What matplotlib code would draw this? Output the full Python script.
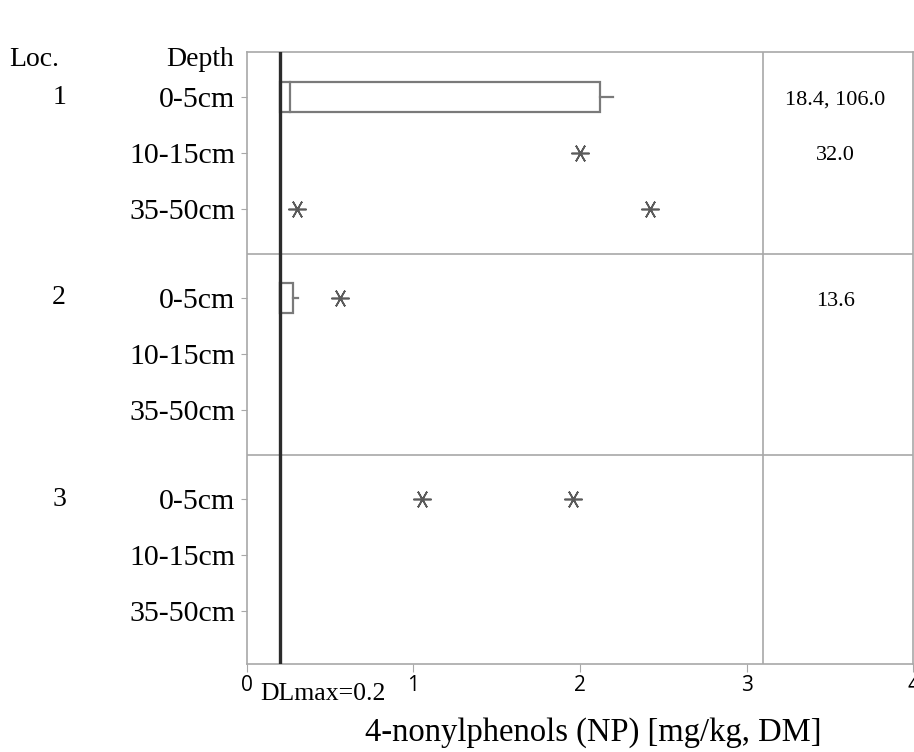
import matplotlib
matplotlib.use("Agg")
import matplotlib.pyplot as plt
from matplotlib.patches import Rectangle

locations = ["1", "2", "3"]
depths = ["0-5cm", "10-15cm", "35-50cm"]
DL = 0.2

# box stats: (loc index, depth index, q1, median, q3, whisker_hi)
box_loc = [0, 1]
box_depth = [0, 0]
box_q1 = [0.2, 0.2]
box_med = [0.26, 0.2]
box_q3 = [2.12, 0.28]
box_whi = [2.2, 0.31]

# outliers shown within axis range
out_loc = [0, 0, 0, 1, 2, 2]
out_depth = [1, 2, 2, 0, 0, 0]
out_val = [2.0, 0.30, 2.42, 0.56, 1.05, 1.96]

# off-scale values listed in right column
note_loc = [0, 0, 1]
note_depth = [0, 1, 0]
note_text = ["18.4, 106.0", "32.0", "13.6"]

xticks = [0, 1, 2, 3, 4]

GROUP_STEP = 201
ROW_STEP = 56

def ypos(g, d):
    return g * GROUP_STEP + d * ROW_STEP

serif = ["Liberation Serif", "DejaVu Serif"]
gray = "#7a7a7a"
frame = "#a8a8a8"

fig = plt.figure(figsize=(9.14, 7.52), dpi=100)
ax = fig.add_axes([246.6 / 914, 88 / 752, (913.4 - 246.6) / 914, (664 - 52) / 752])
ax.set_xlim(0, 4)
ax.set_ylim(ypos(2, 2) + 53, -45)

for s in ax.spines.values():
    s.set_color(frame)
    s.set_linewidth(1.2)

# separators
for g in range(len(locations) - 1):
    ysep = (ypos(g, 2) + ypos(g + 1, 0)) / 2
    ax.axhline(ysep, color=frame, lw=1.2)
ax.axvline(3.1, color=frame, lw=1.2)

# boxes
bh = 30
for g, d, q1, med, q3, whi in zip(box_loc, box_depth, box_q1, box_med, box_q3, box_whi):
    y = ypos(g, d)
    ax.add_patch(Rectangle((q1, y - bh / 2), q3 - q1, bh, facecolor="white",
                           edgecolor=gray, lw=1.6, zorder=3))
    ax.plot([med, med], [y - bh / 2, y + bh / 2], color=gray, lw=1.6, zorder=4)
    ax.plot([q3, whi], [y, y], color=gray, lw=1.6, zorder=3)

# outliers
ax.plot(out_val, [ypos(g, d) for g, d in zip(out_loc, out_depth)], linestyle="none",
        marker=(6, 2, 90), markersize=13, markeredgewidth=1.2, color="#5a5a5a", zorder=5)

# detection limit
ax.axvline(DL, color="#2b2b2b", lw=2.4, zorder=6)

# notes
for g, d, t in zip(note_loc, note_depth, note_text):
    ax.text(3.53, ypos(g, d) + 3, t, ha="center", va="center", family=serif, fontsize=16)

# y ticks
yt = [ypos(g, d) for g in range(3) for d in range(3)]
ax.set_yticks(yt)
ax.set_yticklabels(depths * 3)
ax.tick_params(axis="y", length=4, color=frame, pad=4, labelsize=21.5,
               labelfontfamily="Liberation Serif")
for g, lab in enumerate(locations):
    ax.text(-1.125, ypos(g, 0), lab, ha="center", va="center", family=serif, fontsize=20)
ax.text(-1.275, -37, "Loc.", ha="center", va="center", family=serif, fontsize=20)
ax.text(-0.28, -37, "Depth", ha="center", va="center", family=serif, fontsize=20)

# x ticks
ax.set_xticks(xticks)
ax.set_xticklabels([str(v) for v in xticks])
ax.tick_params(axis="x", length=6, color=frame, pad=2, labelsize=15,
               labelfontfamily="Open Sans")
ax.text(0.08, ypos(2, 2) + 83, "DLmax=0.2", ha="left", va="center", family=serif, fontsize=18.5)

fig.text(593 / 914, 1 - 733 / 752, "4-nonylphenols (NP) [mg/kg, DM]", ha="center", va="center",
         family=serif, fontsize=23.5)

fig.savefig("out.png", dpi=100)
